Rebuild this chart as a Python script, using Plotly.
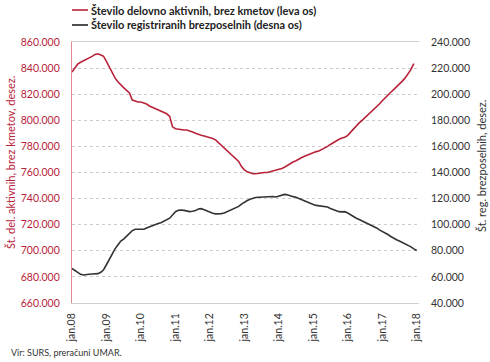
import plotly.graph_objects as go
import pandas as pd

# Monthly data, Jan 2008 onward
employed = [  # thousands, left axis
    837, 840, 843, 844.5, 845.5, 846.5, 847.5, 849, 850.5, 851, 850, 849,
    845, 840.5, 836.5, 832.5, 829.5, 827, 825, 823, 821, 815.5, 814.5, 814,
    814, 813.5, 812.5, 811, 810, 809, 808.5, 807.5, 806.5, 805, 803, 795,
    793.5, 793, 792.8, 792.6, 792.6, 792, 791, 790, 789, 788.5, 788, 787.5,
    787, 786, 785, 783, 781, 779, 776.5, 774.5, 772.5, 771, 768.5, 764.5,
    762, 760.5, 759.5, 759, 759, 759.5, 760, 760, 760, 760.5, 761.5, 762,
    762.5, 763, 764, 765.5, 767, 768, 769, 770.5, 771.5, 772.5, 773.5, 774.5,
    775.5, 776, 776.5, 777.5, 778.5, 780, 781.5, 783, 784.5, 785.5, 786.5, 787,
    788.5, 791, 793.5, 796, 798, 800, 802, 804, 806.5, 808.5, 810.5, 812.5,
    815, 817, 819.5, 821.5, 823.5, 825.5, 827.5, 830, 832.5, 835.5, 839, 843.5,
]
unemployed = [  # thousands, right axis
    66.5, 65, 63.5, 62, 61.5, 61.5, 62, 62.2, 62.3, 62.5, 63.5, 65.5,
    69.5, 74, 78, 81.5, 84.5, 87.5, 89, 91, 93, 95.5, 96.5, 96.5,
    96, 96.5, 97.5, 98.5, 99.5, 100.5, 101, 101.5, 102.5, 103.5, 105, 107.5,
    110, 111, 111.3, 111, 110.5, 110, 110.3, 110.8, 112, 112.3, 111.5, 110.5,
    109.5, 108.8, 108.3, 108.2, 108.5, 109, 110, 110.8, 111.5, 112.8, 114, 115.8,
    117.5, 118.5, 119.5, 120.3, 120.8, 121, 121.2, 121.5, 121.5, 121.6, 121.6, 121.2,
    122, 122.5, 123.2, 123, 122, 121.5, 121, 120, 119, 118, 117.2, 116.5,
    115.5, 114.8, 114.5, 114.5, 114.4, 113.5, 112.5, 111.5, 110.8, 110, 109.8, 110,
    109, 107.5, 106, 105, 104, 103, 102, 101, 100, 99, 97.5, 96,
    95, 94, 92.5, 91, 89.5, 88.5, 87.5, 86.5, 85.5, 84.5, 83, 81.5,
    80.2,
]
left_ticks = [660, 680, 700, 720, 740, 760, 780, 800, 820, 840, 860]
right_ticks = [40, 60, 80, 100, 120, 140, 160, 180, 200, 220, 240]
x_tick_dates = [f"{y}-01-01" for y in range(2008, 2019)]
x_tick_labels = [f"jan.{y % 100:02d}" for y in range(2008, 2019)]

name_emp = "Število delovno aktivnih, brez kmetov (leva os)"
name_unemp = "Število registriranih brezposelnih (desna os)"
title_left = "Št. del. aktivnih, brez kmetov, desez."
title_right = "Št. reg. brezposelnih, desez."
source = "Vir: SURS, preračuni UMAR."

dates_emp = pd.date_range("2008-01-01", periods=len(employed), freq="MS")
dates_unemp = pd.date_range("2008-01-01", periods=len(unemployed), freq="MS")

RED = "#b8233a"
DARK = "#333333"
FONT = "Lato"

def fmt(v):
    return f"{v:.3f}"  # 860 -> "860.000"

fig = go.Figure()
fig.add_trace(go.Scatter(x=dates_emp, y=[v * 1000 for v in employed], name=name_emp,
                         mode="lines", line=dict(color=RED, width=1.6), yaxis="y"))
fig.add_trace(go.Scatter(x=dates_unemp, y=[v * 1000 for v in unemployed], name=name_unemp,
                         mode="lines", line=dict(color=DARK, width=1.6), yaxis="y2"))

# Manual legend (paper coordinates)
PW, PH = 347.0, 261.0
def px(xp):
    return (xp - 72) / PW
def py(yp):
    return (303 - yp) / PH

shapes = []
annotations = []
for yy, col, name in [(10, RED, name_emp), (25, "#222222", name_unemp)]:
    shapes.append(dict(type="line", xref="paper", yref="paper", x0=px(72), x1=px(88),
                       y0=py(yy), y1=py(yy), line=dict(color=col, width=1.6)))
    annotations.append(dict(text=name, xref="paper", yref="paper", x=px(89), y=py(yy),
                            xanchor="left", yanchor="middle", showarrow=False,
                            font=dict(size=11, color="#222222", family=FONT, weight="bold")))

annotations.append(dict(text=title_left, xref="paper", yref="paper", x=px(10), y=py(163),
                        xanchor="center", yanchor="middle", textangle=-90, showarrow=False,
                        font=dict(size=11, color=RED, family=FONT)))
annotations.append(dict(text=title_right, xref="paper", yref="paper", x=px(481), y=py(166),
                        xanchor="center", yanchor="middle", textangle=-90, showarrow=False,
                        font=dict(size=11, color=DARK, family=FONT)))
annotations.append(dict(text=source, xref="paper", yref="paper", x=px(9), y=py(352),
                        xanchor="left", yanchor="middle", showarrow=False,
                        font=dict(size=9, color=DARK, family=FONT)))

fig.update_layout(
    width=490, height=362,
    margin=dict(l=72, r=71, t=42, b=59, autoexpand=False),
    paper_bgcolor="white", plot_bgcolor="white",
    font=dict(family=FONT, size=11, color=DARK),
    showlegend=False,
    shapes=shapes,
    annotations=annotations,
    xaxis=dict(
        type="date", automargin=False,
        range=["2008-01-01", "2018-01-25"],
        tickmode="array", tickvals=x_tick_dates, ticktext=x_tick_labels,
        tickangle=-90, tickfont=dict(size=10.5, color=DARK),
        showgrid=False, showline=True, linecolor="#cfcfcf", linewidth=1,
        mirror=True, ticks="", zeroline=False, ticklabelstandoff=5,
    ),
    yaxis=dict(
        automargin=False,
        range=[660000, 860000],
        tickmode="array", tickvals=[v * 1000 for v in left_ticks],
        ticktext=[fmt(v) for v in left_ticks],
        tickfont=dict(size=10.5, color=RED),
        showgrid=True, gridcolor="#cccccc", griddash="dot", gridwidth=1,
        showline=True, linecolor="#e08a98", linewidth=1.2,
        zeroline=False, ticks="", ticklabelstandoff=9,
    ),
    yaxis2=dict(
        automargin=False,
        range=[40000, 240000], overlaying="y", side="right",
        tickmode="array", tickvals=[v * 1000 for v in right_ticks],
        ticktext=[fmt(v) for v in right_ticks],
        tickfont=dict(size=10.5, color=DARK),
        showgrid=False, showline=False, zeroline=False, ticks="", ticklabelstandoff=11,
    ),
)

fig.write_html("out.html", config={"displayModeBar": False},
               post_script="document.body.style.margin='0px';")
